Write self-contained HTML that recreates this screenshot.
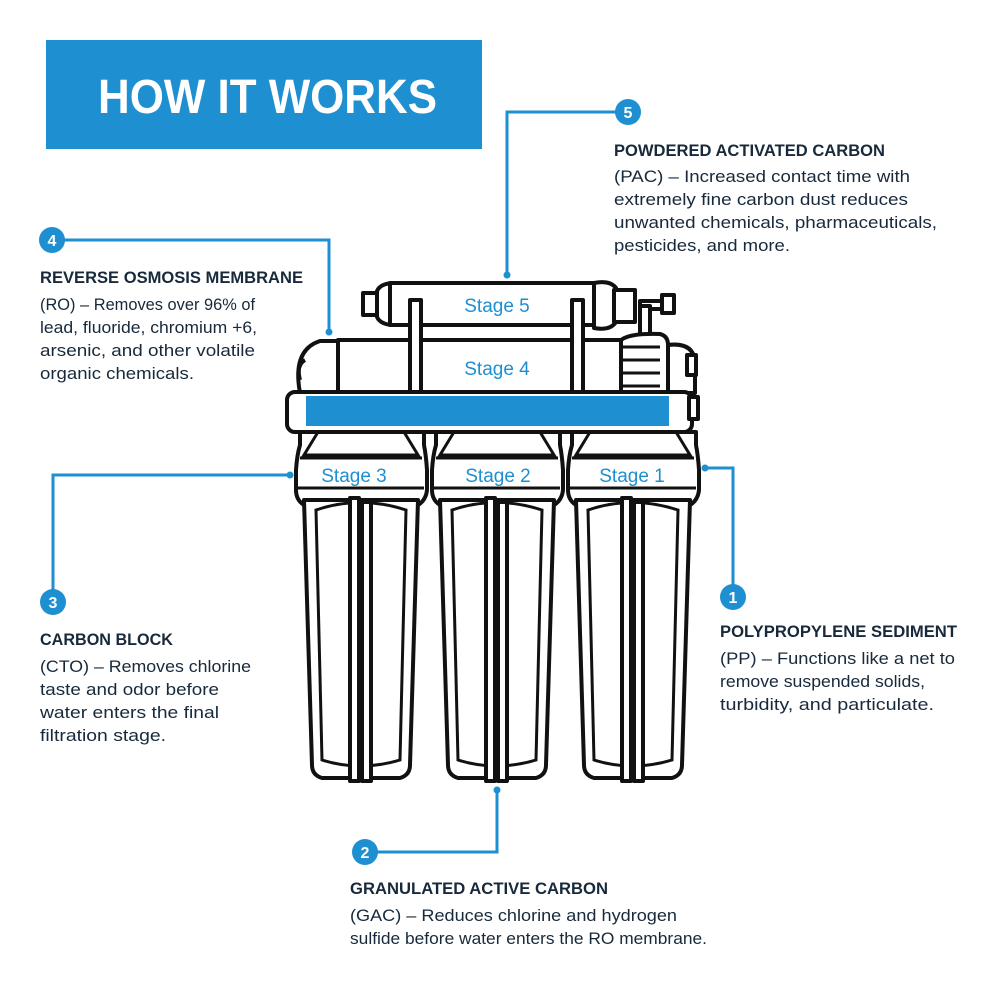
<!DOCTYPE html>
<html><head><meta charset="utf-8"><style>
html,body{margin:0;padding:0;background:#fff;width:1000px;height:1000px;overflow:hidden}
svg{display:block}
text{font-family:"Liberation Sans",sans-serif}
.t{font-weight:bold;font-size:17px;fill:#17293a}
.b{font-size:17px;fill:#17293a}
.n{font-weight:bold;font-size:16px;fill:#fff}
.s{font-size:19px;fill:#1e8fd0}
.ln{stroke:#1e8fd0;stroke-width:3;fill:none}
.k{stroke:#111;stroke-width:4;fill:#fff;stroke-linejoin:round}
.k2{stroke:#111;stroke-width:3;fill:none}
</style></head><body>
<svg width="1000" height="1000" viewBox="0 0 1000 1000" xmlns="http://www.w3.org/2000/svg">
<rect x="46" y="40" width="436" height="109" fill="#1e8fd0"/>
<text x="98" y="113" font-size="48" font-weight="bold" fill="#fff" textLength="339" lengthAdjust="spacingAndGlyphs">HOW IT WORKS</text>

<!-- connectors -->
<path class="ln" d="M616 112 H507 V275"/><circle cx="507" cy="275" r="3.5" fill="#1e8fd0"/>
<path class="ln" d="M64 240 H329 V332"/><circle cx="329" cy="332" r="3.5" fill="#1e8fd0"/>
<path class="ln" d="M53 590 V475 H290"/><circle cx="290" cy="475" r="3.5" fill="#1e8fd0"/>
<path class="ln" d="M733 585 V468 H705"/><circle cx="705" cy="468" r="3.5" fill="#1e8fd0"/>
<path class="ln" d="M377 852 H497 V790"/><circle cx="497" cy="790" r="3.5" fill="#1e8fd0"/>

<g fill="#1e8fd0">
<circle cx="628" cy="112" r="13"/><circle cx="52" cy="240" r="13"/><circle cx="53" cy="602" r="13"/><circle cx="733" cy="597" r="13"/><circle cx="365" cy="852" r="13"/>
</g>
<text class="n" x="628" y="118" text-anchor="middle">5</text>
<text class="n" x="52" y="246" text-anchor="middle">4</text>
<text class="n" x="53" y="608" text-anchor="middle">3</text>
<text class="n" x="733" y="603" text-anchor="middle">1</text>
<text class="n" x="365" y="858" text-anchor="middle">2</text>

<!-- text blocks -->
<text class="t" x="614" y="156" textLength="271" lengthAdjust="spacingAndGlyphs">POWDERED ACTIVATED CARBON</text>
<text class="b" x="614" y="182" textLength="296" lengthAdjust="spacingAndGlyphs">(PAC) – Increased contact time with</text>
<text class="b" x="614" y="205" textLength="294" lengthAdjust="spacingAndGlyphs">extremely fine carbon dust reduces</text>
<text class="b" x="614" y="228" textLength="323" lengthAdjust="spacingAndGlyphs">unwanted chemicals, pharmaceuticals,</text>
<text class="b" x="614" y="251" textLength="176" lengthAdjust="spacingAndGlyphs">pesticides, and more.</text>

<text class="t" x="40" y="283" textLength="263" lengthAdjust="spacingAndGlyphs">REVERSE OSMOSIS MEMBRANE</text>
<text class="b" x="40" y="310" textLength="215" lengthAdjust="spacingAndGlyphs">(RO) – Removes over 96% of</text>
<text class="b" x="40" y="333" textLength="217" lengthAdjust="spacingAndGlyphs">lead, fluoride, chromium +6,</text>
<text class="b" x="40" y="356" textLength="215" lengthAdjust="spacingAndGlyphs">arsenic, and other volatile</text>
<text class="b" x="40" y="379" textLength="154" lengthAdjust="spacingAndGlyphs">organic chemicals.</text>

<text class="t" x="40" y="645" textLength="133" lengthAdjust="spacingAndGlyphs">CARBON BLOCK</text>
<text class="b" x="40" y="672" textLength="211" lengthAdjust="spacingAndGlyphs">(CTO) – Removes chlorine</text>
<text class="b" x="40" y="695" textLength="179" lengthAdjust="spacingAndGlyphs">taste and odor before</text>
<text class="b" x="40" y="718" textLength="179" lengthAdjust="spacingAndGlyphs">water enters the final</text>
<text class="b" x="40" y="741" textLength="126" lengthAdjust="spacingAndGlyphs">filtration stage.</text>

<text class="t" x="720" y="637" textLength="237" lengthAdjust="spacingAndGlyphs">POLYPROPYLENE SEDIMENT</text>
<text class="b" x="720" y="664" textLength="235" lengthAdjust="spacingAndGlyphs">(PP) – Functions like a net to</text>
<text class="b" x="720" y="687" textLength="205" lengthAdjust="spacingAndGlyphs">remove suspended solids,</text>
<text class="b" x="720" y="710" textLength="214" lengthAdjust="spacingAndGlyphs">turbidity, and particulate.</text>

<text class="t" x="350" y="894" textLength="258" lengthAdjust="spacingAndGlyphs">GRANULATED ACTIVE CARBON</text>
<text class="b" x="350" y="921" textLength="327" lengthAdjust="spacingAndGlyphs">(GAC) – Reduces chlorine and hydrogen</text>
<text class="b" x="350" y="944" textLength="357" lengthAdjust="spacingAndGlyphs">sulfide before water enters the RO membrane.</text>

<!-- machine -->
<!-- stage 5 -->
<rect class="k" x="363" y="293" width="14" height="22"/>
<path class="k" d="M377 291 Q380 284 392 283 V325 Q380 324 377 317 Z"/>
<rect class="k" x="390" y="283" width="204" height="42"/>
<path class="k" d="M594 283 Q610 280 616 288 V322 Q610 331 594 328 Z"/>
<rect class="k" x="614" y="290" width="21" height="32"/>
<rect class="k" x="640" y="301" width="22" height="8"/>
<rect class="k" x="662" y="295" width="12" height="18"/>
<rect class="k" x="640" y="306" width="10" height="30"/>
<!-- stage 4 -->
<path class="k" d="M300 393 Q292 350 320 341 H340 V393 Z"/>
<path class="k" d="M305 360 Q296 365 300 380"/>
<rect class="k" x="338" y="340" width="283" height="53"/>
<path class="k" d="M621 340 Q630 333 660 334 Q668 336 668 345 V393 H621 Z"/>
<path class="k2" d="M620 347 H660 M620 360 H660 M620 373 H660 M620 386 H660"/>
<path class="k" d="M668 345 Q692 342 695 360 V393 H668 Z"/>
<rect class="k" x="687" y="355" width="9" height="20"/>
<!-- posts -->
<rect class="k" x="410" y="300" width="11" height="93"/><rect class="k" x="572" y="300" width="11" height="93"/>
<!-- bar -->
<rect class="k" x="287" y="392" width="405" height="40" rx="8"/>
<rect x="306" y="396" width="363" height="30" fill="#1e8fd0"/>
<rect class="k" x="689" y="397" width="9" height="22"/>
<text class="s" x="497" y="312" text-anchor="middle">Stage 5</text>
<text class="s" x="497" y="375" text-anchor="middle">Stage 4</text>

<!-- canisters -->
<g id="c">
<path class="k" d="M300 432 H424 V445 Q426 455 427 470 V490 Q426 500 418 505 H304 Q296 500 296 490 V470 Q297 455 300 445 Z"/>
<path class="k2" d="M318 432 L304 455 H418 L404 432 M300 458 H422 M298 488 H424"/>
<path class="k" d="M304 500 H418 L410 765 Q410 775 400 778 H322 Q312 775 312 765 Z"/>
<path class="k2" d="M316 510 Q360 495 406 510 L400 760 Q360 772 322 760 Z"/>
<rect class="k" x="350" y="498" width="9" height="283"/><rect class="k" x="362" y="502" width="9" height="279"/>
</g>
<use href="#c" x="136"/><use href="#c" x="272"/>
<text class="s" x="354" y="482" text-anchor="middle">Stage 3</text>
<text class="s" x="498" y="482" text-anchor="middle">Stage 2</text>
<text class="s" x="632" y="482" text-anchor="middle">Stage 1</text>
</svg>
</body></html>
